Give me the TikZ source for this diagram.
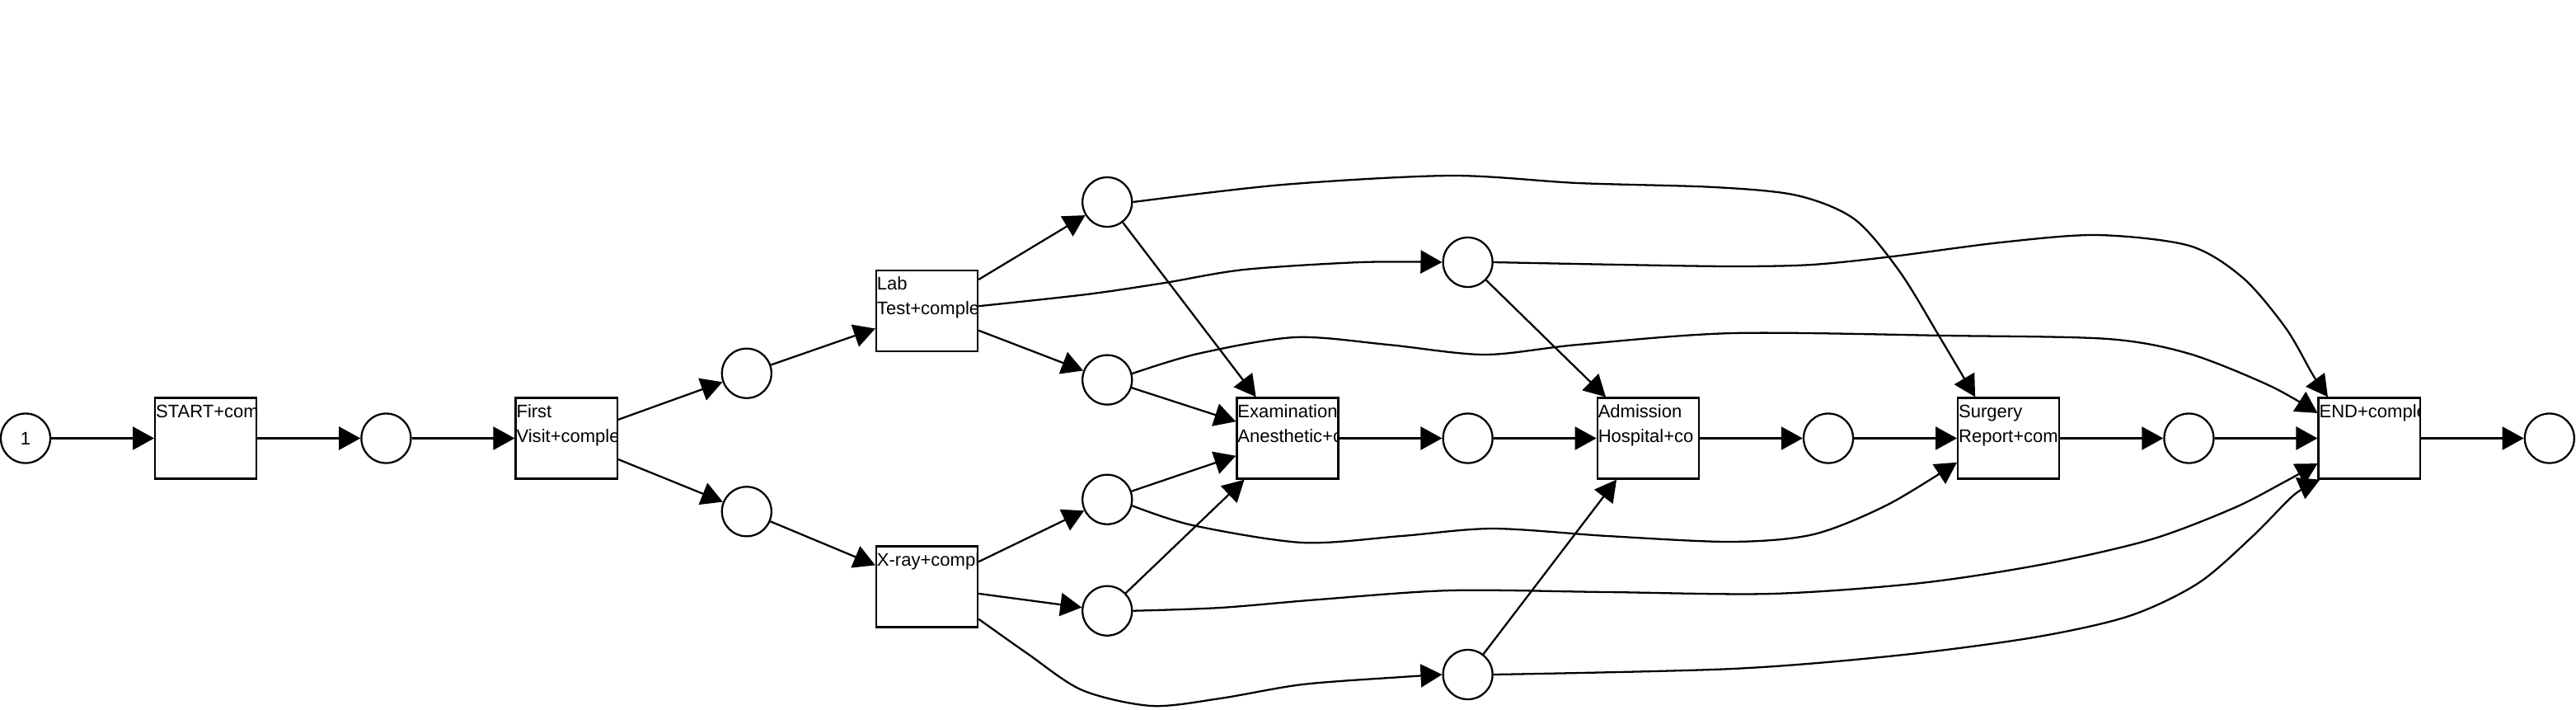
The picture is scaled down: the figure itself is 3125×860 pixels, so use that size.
\documentclass[tikz,border=0pt]{standalone}
\usepackage{fontspec}
\setmainfont{Liberation Sans}
\usetikzlibrary{calc,arrows.meta}
\newcommand\lblfont{\fontsize{6.26pt}{8.5pt}\selectfont}
\newcommand\translabel[3]{%
  \begin{scope}
    \clip (#1.north west) rectangle (#1.south east);
    \node[lbl] at ($(#1.north west)+(1,25)$) {#2};
    \node[lbl] at ($(#1.north west)+(1,55)$) {#3};
  \end{scope}}
\begin{document}
\begin{tikzpicture}[x=0.01cm,y=-0.01cm,line width=0.65pt,
  place/.style={circle,draw,minimum size=0.6cm,inner sep=0pt,font=\lblfont},
  trans/.style={rectangle,draw,minimum width=1.23cm,minimum height=0.98cm,inner sep=0pt},
  lbl/.style={anchor=base west,inner sep=0pt,font=\lblfont},
  arr/.style={-{Triangle[length=0.26cm,width=0.28cm]}},
]
\useasboundingbox (0,0) rectangle (3125,860);
% places and transitions
\node[place] (p1) at (31,531.5) {1};
\node[trans] (start) at (249.7,531.5) {};
\node[place] (p2) at (468.4,531.5) {};
\node[trans] (first) at (687.1,531.5) {};
\node[place] (p3) at (905.8,452.7) {};
\node[place] (p4) at (905.8,620.3) {};
\node[trans] (lab) at (1124.5,376.7) {};
\node[trans] (xray) at (1124.5,711.5) {};
\node[place] (p5) at (1343.2,245) {};
\node[place] (p6) at (1343.2,460.6) {};
\node[place] (p7) at (1343.2,605.7) {};
\node[place] (p8) at (1343.2,740.7) {};
\node[trans] (exam) at (1561.9,531.5) {};
\node[place] (p9) at (1780.6,318) {};
\node[place] (p10) at (1780.6,531.5) {};
\node[place] (p11) at (1780.6,818) {};
\node[trans] (adm) at (1999.3,531.5) {};
\node[place] (p12) at (2218,531.5) {};
\node[trans] (surg) at (2436.7,531.5) {};
\node[place] (p13) at (2655.4,531.5) {};
\node[trans] (end) at (2874.1,531.5) {};
\node[place] (p14) at (3092.8,531.5) {};
% labels
\translabel{start}{START+com}{}
\translabel{first}{First}{Visit+comple}
\translabel{lab}{Lab}{Test+comple}
\translabel{xray}{X-ray+compl}{}
\translabel{exam}{Examination}{Anesthetic+c}
\translabel{adm}{Admission}{Hospital+co}
\translabel{surg}{Surgery}{Report+com}
\translabel{end}{END+comple}{}
% straight arcs
\draw[arr] (p1) -- (start);
\draw[arr] (start) -- (p2);
\draw[arr] (p2) -- (first);
\draw[arr] (first) -- (p3);
\draw[arr] (first) -- (p4);
\draw[arr] (p3) -- (lab);
\draw[arr] (p4) -- (xray);
\draw[arr] (lab) -- (p5);
\draw[arr] (lab) -- (p6);
\draw[arr] (xray) -- (p7);
\draw[arr] (xray) -- (p8);
\draw[arr] (p5) -- (exam);
\draw[arr] (p6) -- (exam);
\draw[arr] (p7) -- (exam);
\draw[arr] (p8) -- (exam);
\draw[arr] (exam) -- (p10);
\draw[arr] (p10) -- (adm);
\draw[arr] (p9) -- (adm);
\draw[arr] (p11) -- (adm);
\draw[arr] (adm) -- (p12);
\draw[arr] (p12) -- (surg);
\draw[arr] (surg) -- (p13);
\draw[arr] (p13) -- (end);
\draw[arr] (end) -- (p14);
% curved arcs
\draw[arr] plot[smooth] coordinates {(lab.5) (1318,357) (1413,343) (1509,327) (1650,318) (p9.west)};
\draw[arr] plot[smooth] coordinates {(xray.-32) (1247,793) (1313,837) (1397,856) (1480,847) (1580,830) (1700,821) (p11.west)};
\draw[arr] plot[smooth] coordinates {(p5.east) (1556,224) (1760,213) (1914,222) (2080,227) (2180,237) (2250,266) (2305,330) (2355,412) (surg.129)};
\draw[arr] plot[smooth] coordinates {(p6.14) (1453,429) (1571,409) (1684,418) (1801,430) (1914,418) (2102,404) (2361,407) (2557,411) (2656,429) (2754,468) (end.154)};
\draw[arr] plot[smooth] coordinates {(p7.-14) (1447,637) (1580,658) (1700,650) (1811,641) (1950,650) (2100,657) (2200,648) (2290,612) (surg.-155)};
\draw[arr] plot[smooth] coordinates {(p8.east) (1480,737) (1600,727) (1760,716) (1950,718) (2150,720) (2330,707) (2480,684) (2610,654) (2710,616) (2772,584) (end.-154)};
\draw[arr] plot[smooth] coordinates {(p9.east) (1965,321) (2102,323) (2198,321) (2296,311) (2427,294) (2544,285) (2656,298) (2721,337) (2773,398) (2806,455) (end.135)};
\draw[arr] plot[smooth] coordinates {(p11.east) (2102,811) (2300,795) (2467,773) (2583,747) (2667,707) (2733,650) (2783,600) (end.-140)};
\end{tikzpicture}
\end{document}
